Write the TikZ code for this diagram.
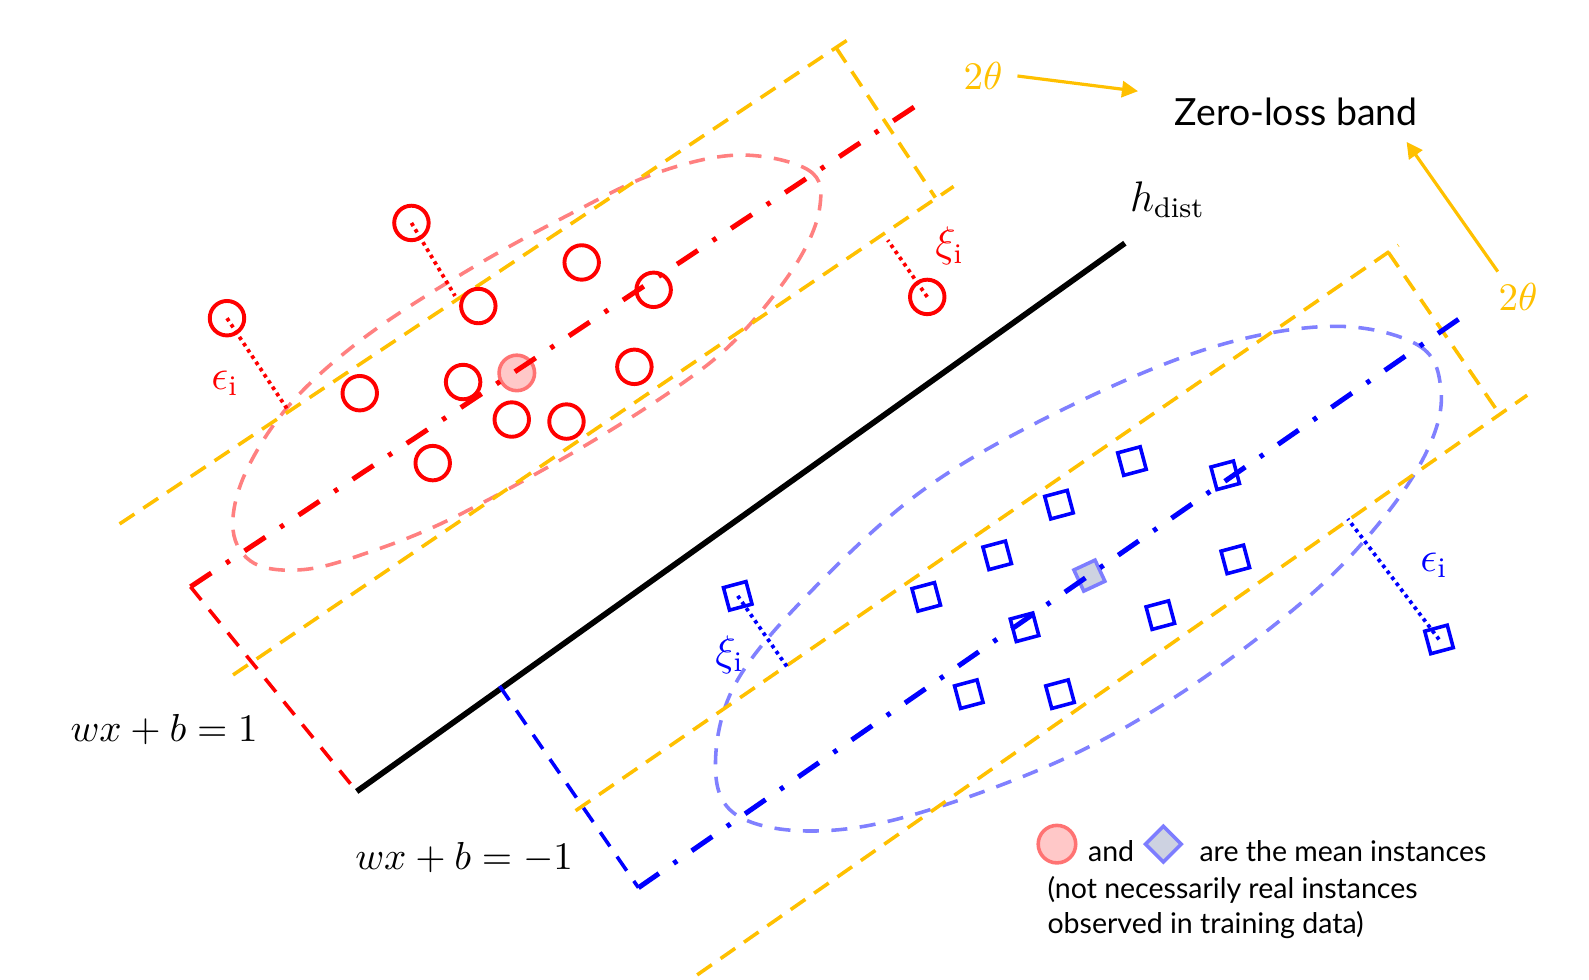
\documentclass[tikz,border=0pt]{standalone}
\usepackage{fontspec}
\newfontfamily\labelfont{Lato}
\usetikzlibrary{arrows.meta}
\definecolor{gold}{RGB}{255,192,0}
\definecolor{pinkl}{RGB}{255,128,128}
\definecolor{bluel}{RGB}{128,128,255}
\definecolor{meanfill}{RGB}{255,200,200}
\definecolor{meanedge}{RGB}{255,115,115}
\definecolor{diafill}{RGB}{205,210,225}
\definecolor{diaedge}{RGB}{125,125,255}
\begin{document}
\begin{tikzpicture}[x=0.01cm,y=-0.01cm,
  redpt/.style={circle,draw=red,line width=1.1pt,minimum size=0.34cm,inner sep=0pt},
  bluesq/.style={rectangle,draw=blue,line width=1pt,minimum size=0.23cm,inner sep=0pt,rotate=15},
  meancirc/.style={circle,draw=meanedge,fill=meanfill,line width=1pt,minimum size=0.35cm,inner sep=0pt},
  meandia/.style={rectangle,draw=diaedge,fill=diafill,line width=1pt,minimum size=0.23cm,inner sep=0pt},
  bandline/.style={draw=gold,line width=1pt,dash pattern=on 5pt off 3pt},
  hull/.style={line width=1pt,dash pattern=on 4.5pt off 3.5pt},
  centerline/.style={line width=1.4pt,dash pattern=on 7pt off 5pt on 1.2pt off 5pt},
  gapline/.style={line width=1.05pt,dash pattern=on 1pt off 1.1pt},
  proj/.style={line width=1pt,dash pattern=on 4.8pt off 3.5pt},
  note/.style={draw=gold,line width=0.9pt,-{Triangle[length=4.5pt,width=4.5pt]}},
  lbl/.style={inner sep=0pt},
]
\useasboundingbox (0,0) rectangle (1568,967);

% hulls
\draw[hull,pinkl] plot[smooth cycle,tension=0.6] coordinates {
 (729,153) (798,168) (809,204) (786,260) (729,332) (668,382) (565,447)
 (443,513) (361,546) (300,562) (251,556) (230,523) (242,467) (287,398)
 (361,332) (463,266) (565,210) (647,171)};
\draw[hull,bluel] plot[smooth cycle,tension=0.6] coordinates {
 (1315,322) (1400,341) (1422,386) (1410,441) (1366,510) (1291,589) (1167,683)
 (1043,752) (894,806) (795,820) (725,803) (706,755) (725,676) (795,589)
 (909,485) (1043,407) (1192,344)};

% band coordinates
\coordinate (ru1) at (118,517); \coordinate (ru2) at (840,37);
\coordinate (rl1) at (230,666); \coordinate (rl2) at (941,184);
\coordinate (rp1) at (825,47);  \coordinate (rp2) at (923,195);
\coordinate (bu1) at (568,800); \coordinate (bu2) at (1380,242);
\coordinate (bl1) at (688,962); \coordinate (bl2) at (1507,390);
\coordinate (bp1) at (1370,249); \coordinate (bp2) at (1480,409);
\draw[bandline] (ru1) -- (ru2);
\draw[bandline] (rl1) -- (rl2);
\draw[bandline] (rp1) -- (rp2);
\draw[bandline] (bu1) -- (bu2);
\draw[bandline] (bl1) -- (bl2);
\draw[bandline] (bp1) -- (bp2);

% separating line and margins
\coordinate (h1) at (352,781); \coordinate (h2) at (1110,240);
\coordinate (hm) at (493,677);
\coordinate (rA) at (188,579); \coordinate (rB) at (903,105);
\coordinate (bA) at (630,876); \coordinate (bB) at (1448,309);
\draw[line width=1.6pt] (h1) -- (h2);
\draw[proj,red] (rA) -- (h1);
\draw[proj,blue] (hm) -- (bA);

% red points
\node[redpt] (c1) at (406,220) {};
\node[redpt] (c2) at (224,314) {};
\node[redpt] (c3) at (574,259) {};
\node[redpt] (c4) at (472,302) {};
\node[redpt] (c5) at (645,286) {};
\node[redpt] (c6) at (355,388) {};
\node[redpt] (c7) at (457,377) {};
\node[redpt] (c8) at (626,362) {};
\node[redpt] (c9) at (505,414) {};
\node[redpt] (c10) at (559,416) {};
\node[redpt] (c11) at (427,457) {};
\node[redpt] (c12) at (915,293) {};
\node[meancirc] (cm) at (510,368) {};

% blue points
\node[bluesq] (s1) at (728,588) {};
\node[bluesq] (s2) at (1420,631) {};
\node[bluesq] (s3) at (1117,455) {};
\node[bluesq] (s4) at (1209,469) {};
\node[bluesq] (s5) at (1045,498) {};
\node[bluesq] (s6) at (984,548) {};
\node[bluesq] (s7) at (914,589) {};
\node[bluesq] (s8) at (1011,619) {};
\node[bluesq] (s9) at (1219,552) {};
\node[bluesq] (s10) at (1145,607) {};
\node[bluesq] (s11) at (956,685) {};
\node[bluesq] (s12) at (1046,685) {};
\node[meandia,rotate=25] (sm) at (1075,568) {};

% slack segments
\coordinate (e1) at (449,292);
\coordinate (e2) at (283,403);
\coordinate (e3) at (876,237);
\coordinate (e4) at (778,660);
\coordinate (e5) at (1330,512);
\draw[gapline,red] (c1.center) -- (e1);
\draw[gapline,red] (c2.center) -- (e2);
\draw[gapline,red] (c12.center) -- (e3);
\draw[gapline,blue] (s1.center) -- (e4);
\draw[gapline,blue] (s2.center) -- (e5);

% class centre lines
\draw[centerline,red] (rA) -- (rB);
\draw[centerline,blue] (bA) -- (bB);

% labels
\node[lbl,red] (le1) at (222,378) {\fontsize{12}{14}\selectfont $\epsilon_{\mathrm{i}}$};
\node[lbl,red] (lx1) at (937,243) {\fontsize{12}{14}\selectfont $\xi_{\mathrm{i}}$};
\node[lbl,blue] (lx2) at (720,646) {\fontsize{12}{14}\selectfont $\xi_{\mathrm{i}}$};
\node[lbl,blue] (le2) at (1415,558) {\fontsize{12}{14}\selectfont $\epsilon_{\mathrm{i}}$};
\node[lbl] (hd) at (1152,197) {\fontsize{12}{14}\selectfont $h_{\mathrm{dist}}$};
\node[lbl] (eq1) at (162,720) {\fontsize{11}{13}\selectfont $wx+b=1$};
\node[lbl] (eq2) at (458,846) {\fontsize{11}{13}\selectfont $wx+b=-1$};
\node[lbl] (zl) at (1279,110) {\labelfont\fontsize{10.5}{12}\selectfont Zero-loss band};
\node[lbl,text=gold] (t1) at (970,75) {\fontsize{11}{13}\selectfont $2\theta$};
\node[lbl,text=gold] (t2) at (1498,293) {\fontsize{11}{13}\selectfont $2\theta$};
\coordinate (a1s) at (1004,75);  \coordinate (a1e) at (1123,90);
\coordinate (a2s) at (1478,268); \coordinate (a2e) at (1388,140);
\draw[note] (a1s) -- (a1e);
\draw[note] (a2s) -- (a2e);

% legend
\node[meancirc,minimum size=0.37cm] (lgc) at (1043,833) {};
\node[meandia,rotate=45,minimum size=0.25cm] (lgd) at (1148,833) {};
\node[lbl,anchor=base west] (lg1) at (1073,850) {\labelfont\fontsize{8}{10}\selectfont and};
\node[lbl,anchor=base west] (lg2) at (1183,850) {\labelfont\fontsize{8}{10}\selectfont are the mean instances};
\node[lbl,anchor=base west] (lg3) at (1033,887) {\labelfont\fontsize{8}{10}\selectfont (not necessarily real instances};
\node[lbl,anchor=base west] (lg4) at (1033,921) {\labelfont\fontsize{8}{10}\selectfont observed in training data)};
\end{tikzpicture}
\end{document}
